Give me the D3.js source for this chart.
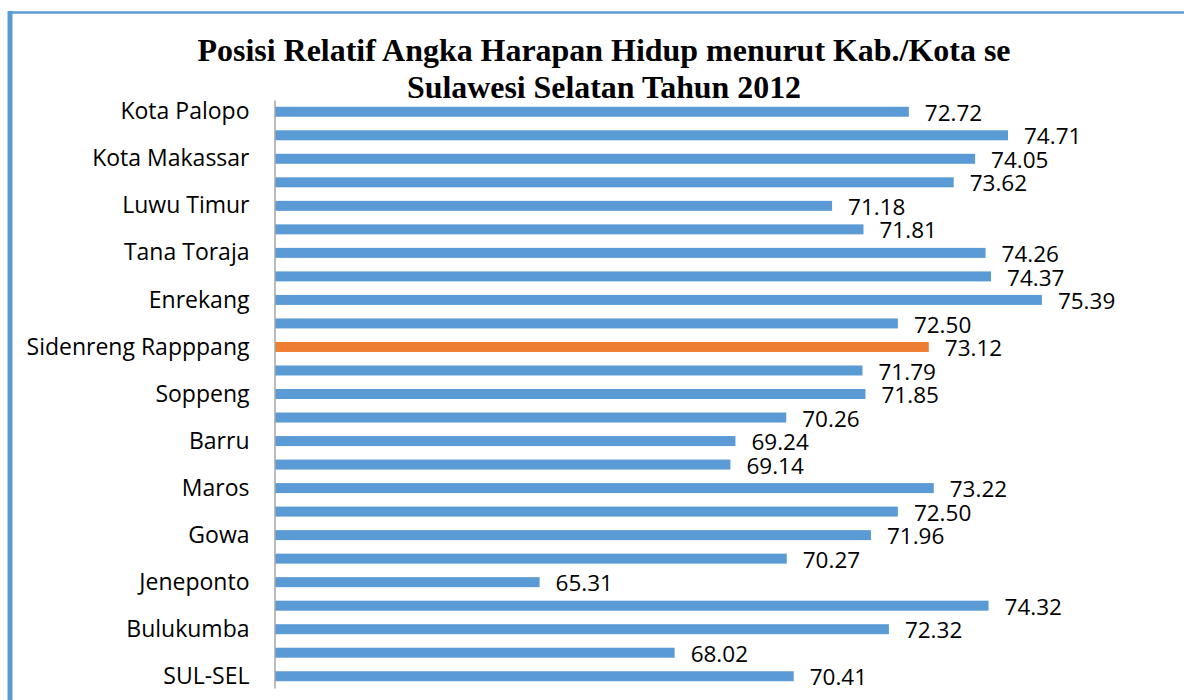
<!DOCTYPE html>
<html>
<head>
<meta charset="utf-8">
<script src="https://cdn.jsdelivr.net/npm/d3@7"></script>
<style>
  body { margin: 0; background: #fff; }
  svg { display: block; }
</style>
</head>
<body>
<div class="canvas"></div>
<script>
// categories from top to bottom (only every other one gets a tick label)
const regions = [
  'Kota Palopo', 'Kota Parepare', 'Kota Makassar', 'Toraja Utara', 'Luwu Timur',
  'Luwu Utara', 'Tana Toraja', 'Luwu', 'Enrekang', 'Pinrang',
  'Sidenreng Rapppang', 'Wajo', 'Soppeng', 'Bone', 'Barru',
  'Pangkep', 'Maros', 'Sinjai', 'Gowa', 'Takalar',
  'Jeneponto', 'Bantaeng', 'Bulukumba', 'Selayar', 'SUL-SEL'
];
const ahh = [
  72.72, 74.71, 74.05, 73.62, 71.18,
  71.81, 74.26, 74.37, 75.39, 72.50,
  73.12, 71.79, 71.85, 70.26, 69.24,
  69.14, 73.22, 72.50, 71.96, 70.27,
  65.31, 74.32, 72.32, 68.02, 70.41
];
const highlighted = ['Sidenreng Rapppang'];
const xDomain = [60, 76];
const titleLines = [
  'Posisi Relatif Angka Harapan Hidup menurut Kab./Kota se',
  'Sulawesi Selatan Tahun 2012'
];

const dims = { width: 1184, height: 700 };
const plot = { left: 275, top: 100, bottom: 688 };
const unit = 49.83;

const svg = d3.select('.canvas')
  .append('svg')
  .attr('width', dims.width)
  .attr('height', dims.height);

// outer frame of the chart
svg.append('line')
  .attr('x1', 10).attr('x2', dims.width)
  .attr('y1', 12.5).attr('y2', 12.5)
  .attr('stroke', '#5b9bd5').attr('stroke-width', 2.5);
svg.append('line')
  .attr('x1', 10).attr('x2', 10)
  .attr('y1', 11).attr('y2', dims.height)
  .attr('stroke', '#5b9bd5').attr('stroke-width', 5);

// title
const titleGroup = svg.append('g')
  .attr('font-family', '"Liberation Serif", "Times New Roman", serif')
  .attr('font-weight', 'bold')
  .attr('font-size', 32)
  .attr('fill', '#000')
  .attr('text-anchor', 'middle');
const titleWidths = [813, 394];
titleGroup.selectAll('text')
  .data(titleLines)
  .enter()
  .append('text')
  .attr('x', 604)
  .attr('y', (d, i) => 61 + i * 37)
  .attr('textLength', (d, i) => titleWidths[i])
  .attr('lengthAdjust', 'spacingAndGlyphs')
  .text(d => d);

// scales
const x = d3.scaleLinear()
  .domain(xDomain)
  .range([plot.left, plot.left + (xDomain[1] - xDomain[0]) * unit]);

const y = d3.scaleBand()
  .domain(regions)
  .range([plot.top, plot.bottom])
  .paddingInner(0.575)
  .paddingOuter(0.2875);

// bars
svg.append('g')
  .selectAll('rect')
  .data(regions)
  .enter()
  .append('rect')
  .attr('x', x(xDomain[0]))
  .attr('y', d => y(d))
  .attr('height', y.bandwidth())
  .attr('width', (d, i) => x(ahh[i]) - x(xDomain[0]))
  .attr('fill', d => highlighted.includes(d) ? '#ed7d31' : '#5b9bd5');

// category axis, every other label shown
const yAxis = d3.axisLeft(y)
  .tickSize(0)
  .tickPadding(25)
  .tickFormat((d, i) => i % 2 === 0 ? d : '');

const axisG = svg.append('g')
  .attr('transform', `translate(${plot.left - 0.5},0)`)
  .call(yAxis);
axisG.select('.domain')
  .attr('stroke', '#a6a6a6')
  .attr('stroke-width', 1.5);
axisG.selectAll('text')
  .attr('font-family', '"Open Sans", sans-serif')
  .attr('font-size', 23)
  .attr('fill', '#000')
  .attr('dy', '0.33em');

// value labels
svg.append('g')
  .attr('font-family', '"Open Sans", sans-serif')
  .attr('font-size', 22.5)
  .attr('fill', '#000')
  .selectAll('text')
  .data(regions)
  .enter()
  .append('text')
  .attr('x', (d, i) => x(ahh[i]) + 16)
  .attr('y', d => y(d) + y.bandwidth() / 2 + 1)
  .attr('dy', '0.36em')
  .text((d, i) => ahh[i].toFixed(2));
</script>
</body>
</html>
